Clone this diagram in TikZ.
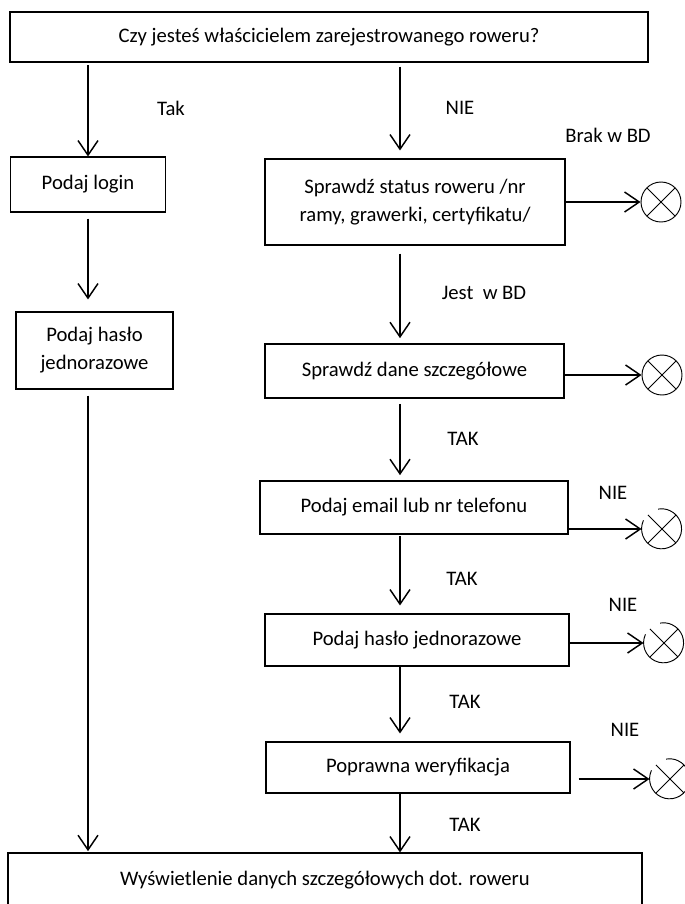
\documentclass[tikz,border=0pt]{standalone}
\usepackage{fontspec}
\setmainfont{Carlito}
\usetikzlibrary{arrows.meta}

\begin{document}
\begin{tikzpicture}[x=0.75pt, y=-0.75pt, font=\fontsize{15.5}{21}\selectfont,
  box/.style={draw, line width=0.8pt, align=center, inner sep=0pt},
  arr/.style={line width=1.5pt, -{Straight Barb[length=11pt, width=15pt, line width=1.1pt]}},
  xmark/.style={circle, minimum size=30pt, inner sep=0pt, line width=0.7pt,
    path picture={\draw[line width=0.7pt] (path picture bounding box.north west) -- (path picture bounding box.south east)
      (path picture bounding box.north east) -- (path picture bounding box.south west);}},
  lbl/.style={inner sep=0pt}]
  \useasboundingbox (0,0) rectangle (685,904);
  \clip (0,0) rectangle (685,904);
  \coordinate (kol) at (400,0);
  \node[box, minimum width=478.5pt, minimum height=37.5pt] (pytanie) at (329,37) {Czy jesteś właścicielem zarejestrowanego roweru?};
  \node[box, minimum width=116.25pt, minimum height=41.25pt] (login) at (88,184.5) {Podaj login};
  \node[box, minimum width=225pt, minimum height=64.5pt] (status) at (415,202) {Sprawdź status roweru /nr\\ramy, grawerki, certyfikatu/};
  \node[box, minimum width=117.75pt, minimum height=57.75pt] (hasloL) at (94.5,350.5) {Podaj hasło\\jednorazowe};
  \node[box, minimum width=224.25pt, minimum height=40.5pt] (dane) at (414.5,371) {Sprawdź dane szczegółowe};
  \node[box, minimum width=231pt, minimum height=39.75pt] (email) at (414,507.5) {Podaj email lub nr telefonu};
  \node[box, minimum width=228pt, minimum height=39pt] (hasloR) at (417,640) {Podaj hasło jednorazowe};
  \node[box, minimum width=228pt, minimum height=38.25pt] (weryf) at (418,767.5) {Poprawna weryfikacja};
  \node[box, minimum width=475.5pt, minimum height=40.5pt] (wynik) at (325,880) {Wyświetlenie danych szczegółowych dot. roweru};
  \node[xmark, draw] (brak1) at (661,202) {};
  \node[xmark, draw] (brak2) at (662,375) {};
  \node[xmark] (brak3) at (662,529) {};
  \node[xmark] (brak4) at (664,643) {};
  \node[xmark] (brak5) at (670,779) {};
  \foreach \n in {brak3,brak4,brak5}
    \draw[line width=0.7pt] (\n.155) arc[start angle=155, end angle=460, radius=15pt];
  \draw[arr, shorten <=2pt] (pytanie.south -| login) -- (login.north);
  \draw[arr, shorten <=3pt, shorten >=6pt] (pytanie.south -| kol) -- (status.north -| kol);
  \draw[arr, shorten <=4.5pt, shorten >=9pt] (login.south) -- (hasloL.north -| login.south);
  \draw[arr, line width=1pt, shorten <=4.5pt, shorten >=1pt] (hasloL.south -| login.south) -- (wynik.north -| login.south);
  \draw[arr, shorten <=6pt, shorten >=4pt] (status.south -| kol) -- (dane.north -| kol);
  \draw[arr, shorten <=4pt, shorten >=4pt] (dane.south -| kol) -- (email.north -| kol);
  \draw[arr, shorten <=1pt, shorten >=6pt] (email.south -| kol) -- (hasloR.north -| kol);
  \draw[arr, shorten >=6pt] (hasloR.south -| kol) -- (weryf.north -| kol);
  \draw[arr] (weryf.south -| kol) -- (wynik.north -| kol);
  \draw[arr] (status.east |- brak1) -- (brak1.west);
  \draw[arr] (dane.east |- brak2) -- (brak2.west);
  \draw[arr] (email.east |- brak3) -- (brak3.west);
  \draw[arr] (hasloR.east |- brak4) -- (brak4.west);
  \draw[arr, shorten <=6pt] (weryf.east |- brak5) -- (brak5.west);
  \node[lbl] (tak0) at (171,108) {Tak};
  \node[lbl] (nie0) at (460,108) {NIE};
  \node[lbl] (brakBD) at (608,135) {Brak w BD};
  \node[lbl] (jestBD) at (484,293) {Jest\ \ w BD};
  \node[lbl] (tak1) at (463,439) {TAK};
  \node[lbl] (nie1) at (613,493) {NIE};
  \node[lbl] (tak2) at (462,579) {TAK};
  \node[lbl] (nie2) at (623,605) {NIE};
  \node[lbl] (tak3) at (465,702) {TAK};
  \node[lbl] (nie3) at (625,730) {NIE};
  \node[lbl] (tak4) at (465,825) {TAK};
\end{tikzpicture}
\end{document}
